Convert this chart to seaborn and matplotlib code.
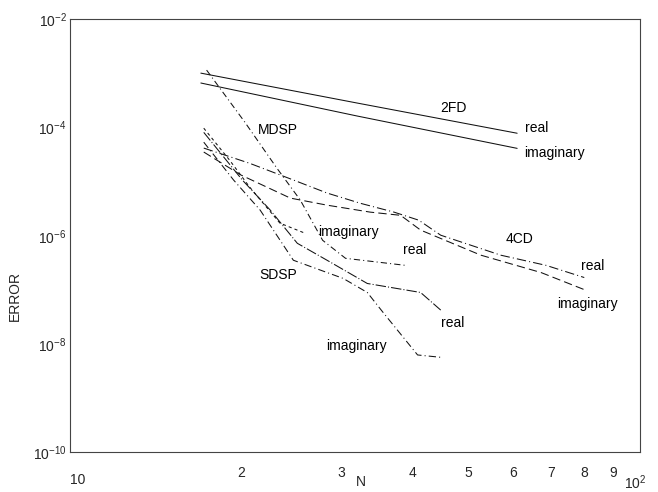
import matplotlib
matplotlib.use("Agg")
import matplotlib.pyplot as plt
import numpy as np
import pandas as pd
import seaborn as sns
from matplotlib.ticker import FixedLocator, FixedFormatter, NullFormatter

# ---------------- data ----------------
N_2FD = [17, 32, 61]
E_2FD_REAL = [1.02e-3, 2.85e-4, 7.9e-5]
E_2FD_IMAG = [6.7e-4, 1.64e-4, 4.15e-5]

N_4CD_REAL = [17.2, 20.7, 24.7, 28.3, 32.4, 37.1, 41.0, 44.8, 57.1, 68.6, 80.0]
E_4CD_REAL = [4.2e-5, 2.2e-5, 1.08e-5, 6.2e-6, 4.0e-6, 2.75e-6, 1.95e-6, 1.03e-6, 4.4e-7, 2.85e-7, 1.7e-7]
N_4CD_IMAG = [17.2, 20.0, 24.4, 28.3, 33.7, 38.1, 41.3, 52.7, 67.2, 80.7]
E_4CD_IMAG = [3.55e-5, 1.33e-5, 5.0e-6, 3.7e-6, 2.75e-6, 2.4e-6, 1.28e-6, 4.4e-7, 2.1e-7, 9.8e-8]

N_MDSP_REAL = [17.4, 20.3, 23.1, 25.4, 27.8, 30.5, 38.9]
E_MDSP_REAL = [1.16e-3, 1.27e-4, 1.8e-5, 4.6e-6, 8.3e-7, 3.85e-7, 2.85e-7]
N_MDSP_IMAG = [17.2, 19.1, 20.7, 23.4, 25.9]
E_MDSP_IMAG = [9.8e-5, 2.5e-5, 8.0e-6, 1.72e-6, 1.12e-6]

N_SDSP_REAL = [17.2, 20.1, 22.5, 25.1, 28.3, 33.3, 41.3, 44.8]
E_SDSP_REAL = [8.2e-5, 1.08e-5, 3.0e-6, 7.3e-7, 3.55e-7, 1.32e-7, 9.0e-8, 4.25e-8]
N_SDSP_IMAG = [17.2, 19.4, 21.6, 24.7, 30.2, 33.3, 35.6, 40.8, 44.8]
E_SDSP_IMAG = [5.4e-5, 1.08e-5, 3.0e-6, 3.55e-7, 1.64e-7, 9.0e-8, 3.7e-8, 6.3e-9, 5.7e-9]

# annotation texts and their positions (N, ERROR)
LABEL_TEXT = ["2FD", "real", "imaginary", "MDSP", "imaginary", "real",
              "4CD", "real", "imaginary", "SDSP", "real", "imaginary"]
LABEL_N = [47.1, 63.0, 62.8, 23.2, 30.8, 40.4, 61.7, 82.9, 80.9, 23.2, 47.1, 31.9]
LABEL_E = [2.31e-4, 9.9e-5, 3.4e-5, 9.07e-5, 1.18e-6, 5.5e-7,
           8.8e-7, 2.78e-7, 5.5e-8, 1.89e-7, 2.45e-8, 9.2e-9]
LABEL_HA = ["center", "left", "left", "center", "center", "center",
            "center", "center", "center", "center", "center", "center"]

X_MINOR_TICKS = [20, 30, 40, 50, 60, 70, 80, 90]
X_MINOR_LABELS = ["2", "3", "4", "5", "6", "7", "8", "9"]
Y_MAJOR_TICKS = [1e-10, 1e-8, 1e-6, 1e-4, 1e-2]
Y_MAJOR_LABELS = [r"$10^{-10}$", r"$10^{-8}$", r"$10^{-6}$", r"$10^{-4}$", r"$10^{-2}$"]
Y_MINOR_TICKS = [1e-9, 1e-7, 1e-5, 1e-3]

# ---------------- style ----------------
sns.set_style("white")
plt.rcParams["font.family"] = ["Liberation Sans", "DejaVu Sans"]
plt.rcParams["mathtext.fontset"] = "custom"
plt.rcParams["mathtext.rm"] = "Liberation Sans"
plt.rcParams["mathtext.it"] = "Liberation Sans"
plt.rcParams["mathtext.default"] = "regular"

fig = plt.figure(figsize=(6.58, 4.92), dpi=100)
W, H = 658, 492
ax = fig.add_axes([69.5 / W, 1 - 452.3 / H, 570 / W, 432.8 / H])

series = [
    (N_2FD, E_2FD_REAL, "-"),
    (N_2FD, E_2FD_IMAG, "-"),
    (N_4CD_REAL, E_4CD_REAL, (0, (9, 3, 1, 3))),
    (N_4CD_IMAG, E_4CD_IMAG, (0, (8, 4))),
    (N_MDSP_REAL, E_MDSP_REAL, (0, (6, 3, 1, 3))),
    (N_MDSP_IMAG, E_MDSP_IMAG, (0, (3, 3))),
    (N_SDSP_REAL, E_SDSP_REAL, (0, (10, 2, 1, 2))),
    (N_SDSP_IMAG, E_SDSP_IMAG, (0, (7, 3, 1, 3))),
]
for xs, ys, ls in series:
    sns.lineplot(x=xs, y=ys, ax=ax, color="#111111", linewidth=0.75,
                 linestyle=ls, estimator=None, sort=False, legend=False)

ax.set_xscale("log")
ax.set_yscale("log")
ax.set_xlim(10, 100)
ax.set_ylim(1e-10, 1e-2)

for t, n, e, ha in zip(LABEL_TEXT, LABEL_N, LABEL_E, LABEL_HA):
    ax.text(n, e, t, ha=ha, va="center", fontsize=10, color="black")

# axes ticks
ax.xaxis.set_major_locator(FixedLocator([10, 100]))
ax.xaxis.set_major_formatter(NullFormatter())
ax.xaxis.set_minor_locator(FixedLocator(X_MINOR_TICKS))
ax.xaxis.set_minor_formatter(FixedFormatter(X_MINOR_LABELS))
ax.yaxis.set_major_locator(FixedLocator(Y_MAJOR_TICKS))
ax.yaxis.set_major_formatter(FixedFormatter(Y_MAJOR_LABELS))
ax.yaxis.set_minor_locator(FixedLocator(Y_MINOR_TICKS))
ax.yaxis.set_minor_formatter(NullFormatter())

ax.tick_params(axis="x", which="major", length=0)
ax.tick_params(axis="x", which="minor", direction="in", length=6, width=0.8,
               labelsize=10, pad=10, color="#333333")
ax.tick_params(axis="y", which="major", direction="in", length=10, width=0.8,
               labelsize=10, pad=2, color="#333333")
ax.tick_params(axis="y", which="minor", direction="in", length=6, width=0.8,
               color="#333333")

for sp in ax.spines.values():
    sp.set_visible(True)
    sp.set_color("#444444")
    sp.set_linewidth(0.8)

# decade labels on the N axis
ax.text((78 - 69.5) / 570, (452.3 - 480) / 432.8, "10", transform=ax.transAxes,
        ha="center", va="center", fontsize=10)
ax.text((635 - 69.5) / 570, (452.3 - 483) / 432.8, r"$10^{2}$", transform=ax.transAxes,
        ha="center", va="center", fontsize=10)

ax.set_xlabel("N", fontsize=10)
ax.xaxis.set_label_coords((361 - 69.5) / 570, (452.3 - 475) / 432.8)
ax.set_ylabel("ERROR", fontsize=10)
ax.yaxis.set_label_coords((22 - 69.5) / 570, (452.3 - 296) / 432.8)

fig.savefig("out.png", dpi=100, facecolor="white")
